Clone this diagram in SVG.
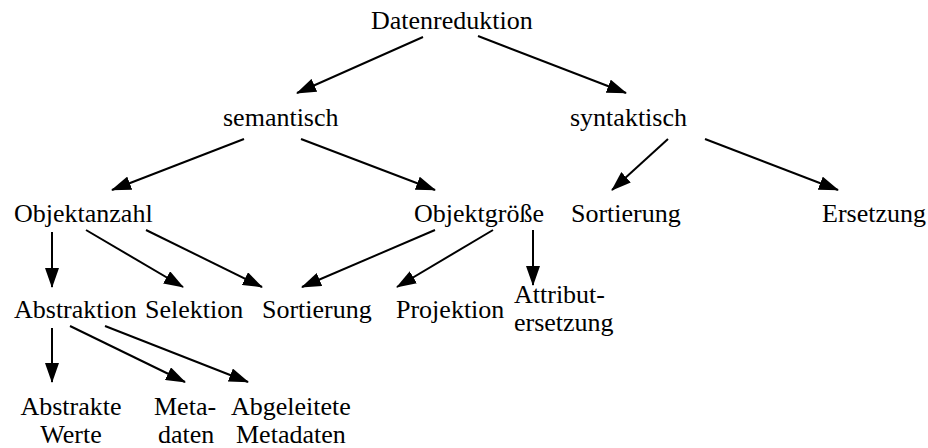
<svg xmlns="http://www.w3.org/2000/svg" width="928" height="448" viewBox="0 0 928 448">
<style>
text{font-family:"Liberation Serif","Times New Roman",serif;font-size:26px;fill:#000}
.c line{stroke:#000;stroke-width:2;marker-end:url(#ah)}
</style>
<defs>
<marker id="ah" markerUnits="userSpaceOnUse" markerWidth="20" markerHeight="14" refX="19" refY="7" orient="auto" viewBox="0 0 20 14">
<path d="M0,0 L20,7 L0,14 z" fill="#000"/>
</marker>
</defs>
<rect width="928" height="448" fill="#fff"/>
<g id="n-datenreduktion"><text x="371" y="29">Datenreduktion</text></g>
<g id="n-semantisch"><text x="223" y="126">semantisch</text></g>
<g id="n-syntaktisch"><text x="570" y="126">syntaktisch</text></g>
<g id="n-objektanzahl"><text x="14" y="222">Objektanzahl</text></g>
<g id="n-objektgroesse"><text x="414" y="222">Objektgröße</text></g>
<g id="n-sortierung2"><text x="571" y="222">Sortierung</text></g>
<g id="n-ersetzung"><text x="822" y="222">Ersetzung</text></g>
<g id="n-abstraktion"><text x="14" y="318">Abstraktion</text></g>
<g id="n-selektion"><text x="145" y="318">Selektion</text></g>
<g id="n-sortierung1"><text x="262" y="318">Sortierung</text></g>
<g id="n-projektion"><text x="396" y="318">Projektion</text></g>
<g id="n-attributersetzung"><text x="514" y="303">Attribut-</text><text x="514" y="331">ersetzung</text></g>
<g id="n-abstraktewerte"><text x="71" y="415" text-anchor="middle">Abstrakte</text><text x="71" y="443" text-anchor="middle">Werte</text></g>
<g id="n-metadaten"><text x="154" y="415">Meta-</text><text x="158" y="443">daten</text></g>
<g id="n-abgeleitete"><text x="231" y="415">Abgeleitete</text><text x="236" y="443">Metadaten</text></g>
<g id="connectors" class="c">
<line x1="423" y1="37" x2="297" y2="93"/>
<line x1="478" y1="36" x2="626" y2="93"/>
<line x1="244" y1="139" x2="112" y2="190"/>
<line x1="301" y1="139" x2="435" y2="190"/>
<line x1="668" y1="139" x2="612" y2="190"/>
<line x1="705" y1="139" x2="838" y2="190"/>
<line x1="52" y1="232" x2="52" y2="287"/>
<line x1="86" y1="230" x2="183" y2="287"/>
<line x1="146" y1="230" x2="262" y2="287"/>
<line x1="435" y1="230" x2="302" y2="287"/>
<line x1="493" y1="230" x2="397" y2="287"/>
<line x1="533" y1="230" x2="533" y2="285"/>
<line x1="52" y1="328" x2="52" y2="382"/>
<line x1="70" y1="326" x2="185" y2="382"/>
<line x1="105" y1="326" x2="248" y2="382"/>
</g>
</svg>
